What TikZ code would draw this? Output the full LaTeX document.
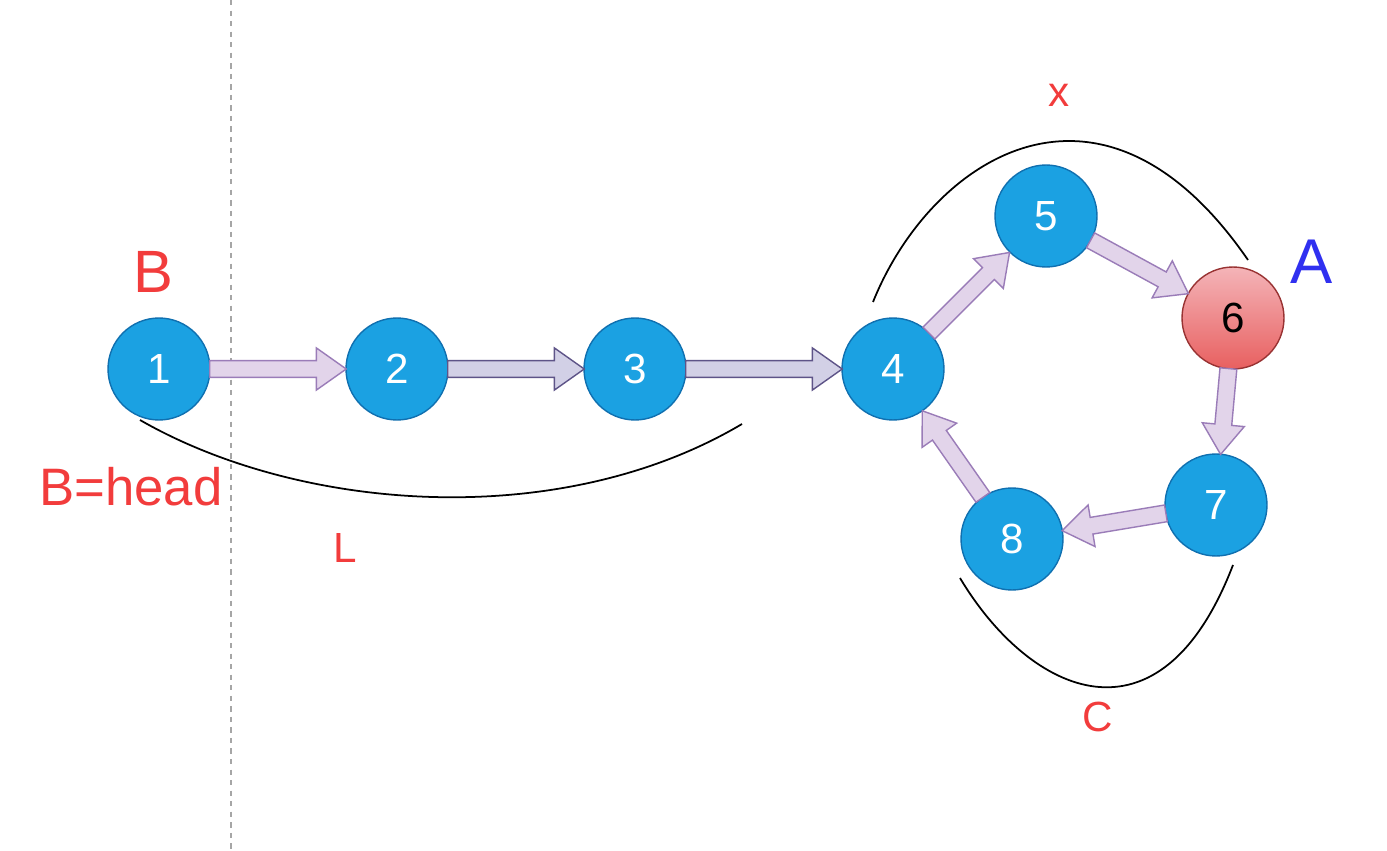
\documentclass[tikz,border=0pt]{standalone}
\usepackage{fontspec}
\setmainfont{Liberation Sans}
\usetikzlibrary{calc}
\definecolor{nblue}{HTML}{1BA1E2}
\definecolor{nbord}{HTML}{1070B0}
\definecolor{afill}{HTML}{E2D4EA}
\definecolor{abord}{HTML}{9A7CB8}
\definecolor{afill2}{HTML}{D2D0E6}
\definecolor{abord2}{HTML}{5E5488}
\definecolor{lred}{HTML}{F23C3C}
\definecolor{lblue}{HTML}{3030F0}
\definecolor{ptop}{HTML}{F4B4B8}
\definecolor{pbot}{HTML}{E86060}
\tikzset{
 nd/.style={circle,minimum size=2.04cm,inner sep=0pt,fill=nblue,draw=nbord,line width=0.8pt,text=white,font=\fontsize{24}{26}\selectfont},
 red node/.style={nd,draw=red!50!black!80,top color=ptop,bottom color=pbot,text=black},
 ar1/.style={fill=afill,draw=abord,line width=0.8pt},
 ar2/.style={fill=afill2,draw=abord2,line width=0.8pt},
 lab/.style={text=lred,font=\fontsize{24}{26}\selectfont},
 curve/.style={black,line width=1pt}
}
\newcommand\blk[3]{%
 \draw[#3] let \p1=(#1), \p2=(#2), \n1={atan2(\y2-\y1,\x2-\x1)}, \n2={veclen(\x2-\x1,\y2-\y1)} in
  [shift={(\p1)}, rotate=\n1]
  (28.9pt,-4.8pt) -- ({\n2-28.9pt-17pt},-4.8pt) -- ({\n2-28.9pt-17pt},-12pt)
  -- ({\n2-28.9pt},0pt) -- ({\n2-28.9pt-17pt},12pt) -- ({\n2-28.9pt-17pt},4.8pt)
  -- (28.9pt,4.8pt) -- cycle;}
\begin{document}
\begin{tikzpicture}[x=0.02cm,y=-0.02cm]
\useasboundingbox (0,0) rectangle (1387,851);
\fill[white] (0,0) rectangle (1387,851);
\draw[gray!70,dashed,line width=0.8pt] (231,0) -- (231,851);
\node[nd] (n1) at (159,369) {1};
\node[nd] (n2) at (397,369) {2};
\node[nd] (n3) at (635,369) {3};
\node[nd] (n4) at (893,369) {4};
\node[nd] (n5) at (1046,216) {5};
\node[red node] (n6) at (1233,318) {6};
\node[nd] (n7) at (1216,505) {7};
\node[nd] (n8) at (1012,539) {8};
\blk{n1}{n2}{ar1}
\blk{n2}{n3}{ar2}
\blk{n3}{n4}{ar2}
\blk{n4}{n5}{ar1}
\blk{n5}{n6}{ar1}
\blk{n6}{n7}{ar1}
\blk{n7}{n8}{ar1}
\blk{n8}{n4}{ar1}
\coordinate (xs) at (873,302); \coordinate (xe) at (1248,260);
\draw[curve] (xs) .. controls (930,160) and (1100,45) .. (xe);
\coordinate (ls) at (140,420); \coordinate (le) at (742,424);
\draw[curve] (ls) .. controls (300,512) and (560,532) .. (le);
\coordinate (cs) at (960,578); \coordinate (ce) at (1233,565);
\draw[curve] (cs) .. controls (1030,695) and (1160,755) .. (ce);
\node[lab] (lx) at (1059,95) {x};
\node[lab] (ll) at (345,548) {L};
\node[lab] (lc) at (1098,717) {C};
\node[text=lred,font=\fontsize{34}{36}\selectfont] (lb) at (153,272) {B};
\node[text=lred,font=\fontsize{30}{32}\selectfont] (lbh) at (131,487) {B=head};
\node[text=lblue,font=\fontsize{36}{38}\selectfont] (la) at (1312,262) {A};
\end{tikzpicture}
\end{document}
